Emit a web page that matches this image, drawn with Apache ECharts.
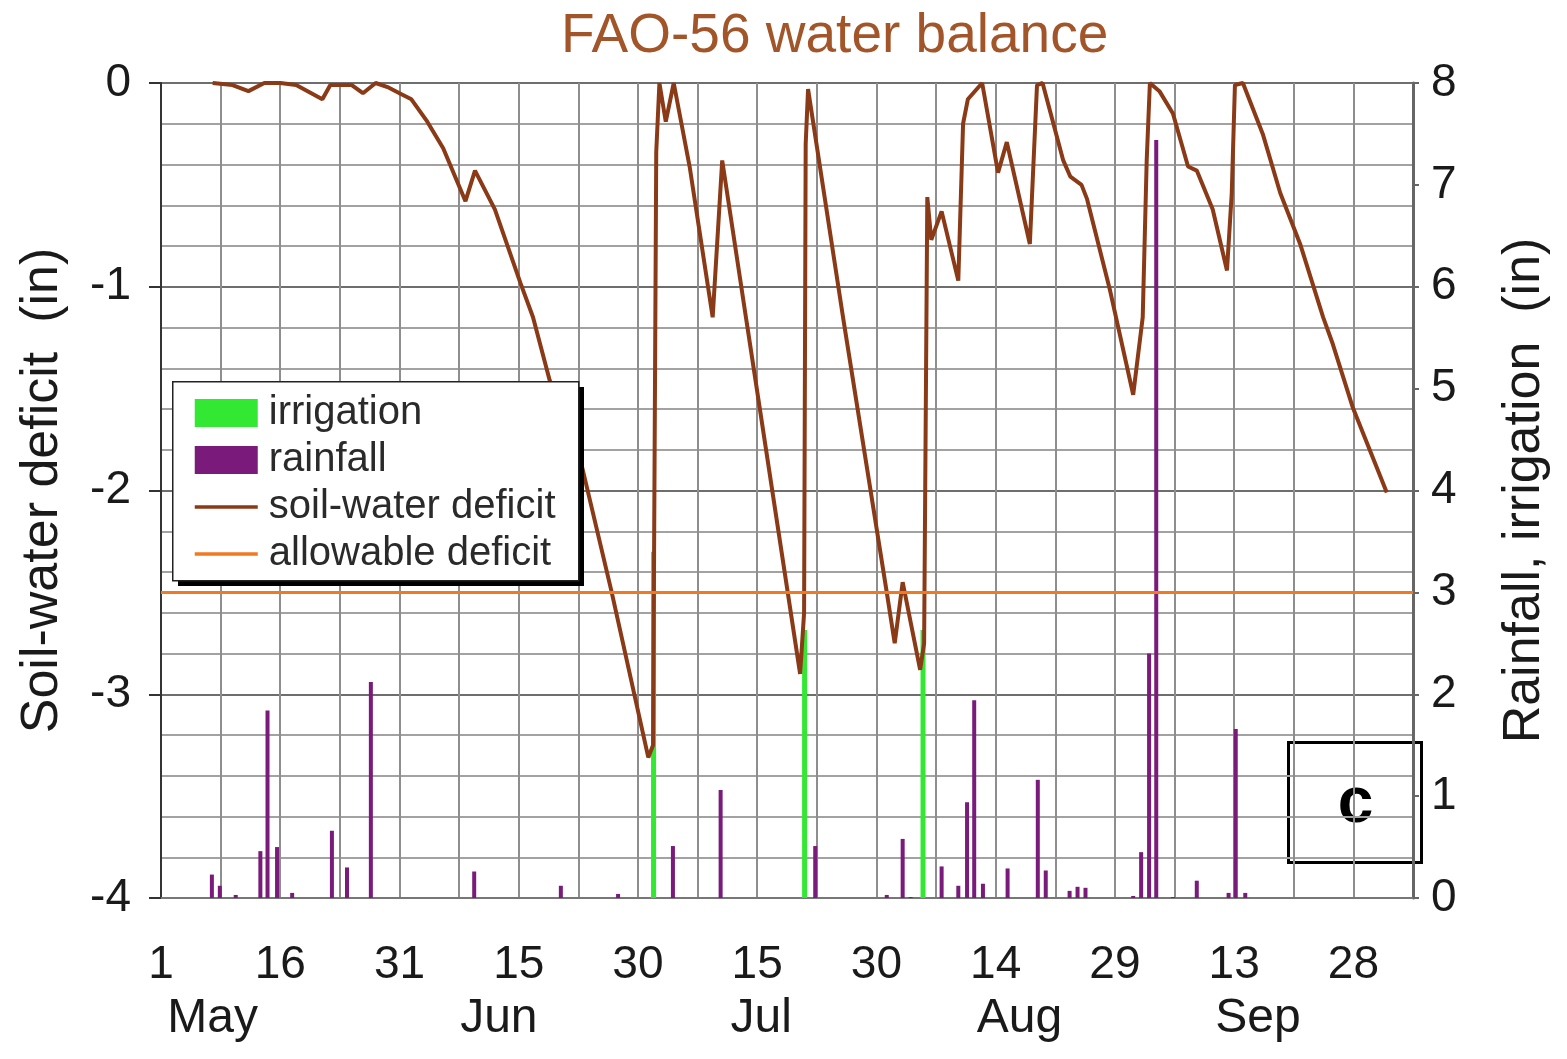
<!DOCTYPE html>
<html>
<head>
<meta charset="utf-8">
<script src="https://cdn.jsdelivr.net/npm/echarts@6.0.0/dist/echarts.min.js"></script>
<style>
  html, body { margin: 0; padding: 0; background: #fff; }
  #main { width: 1567px; height: 1059px; }
</style>
</head>
<body>
<div id="main"></div>
<script>
// days counted from 1 May (day 0)
var deficitDays = [6.5, 9, 11, 13, 15, 17, 20.3, 21.3, 24, 25.4, 27, 28.5, 30, 31.5, 33.5, 35.5, 38.3, 39.5,
    42, 45.2, 46.8, 48.9, 52.7, 56.7, 61.3, 61.9, 62.3, 62.7, 63.5, 64.5, 66.5, 69.4, 70.6, 73.7, 80.4,
    80.9, 81.1, 81.4, 85.8, 91.3, 92.3, 93.3, 95.5, 96.0, 96.4, 96.9, 98.2, 100.3, 100.9, 101.5, 103.3,
    105.3, 106.4, 109.3, 110.2, 110.9, 113.5, 114.4, 115.8, 116.5, 119.4, 122.3, 123.5, 124.0, 124.4,
    125.6, 127.3, 129.2, 130.3, 132.3, 134.1, 134.7, 135.1, 136.1, 138.6, 140.8, 143.3, 146.2, 147.4,
    149.9, 154.2];
var deficitVals = [0, -0.01, -0.04, 0, 0, -0.01, -0.08, -0.01, -0.01, -0.05, 0, -0.02, -0.05, -0.08, -0.19, -0.32, -0.58, -0.43,
    -0.62, -0.98, -1.15, -1.46, -1.84, -2.5, -3.31, -3.25, -0.34, 0, -0.19, 0, -0.41, -1.15, -0.38, -1.18, -2.9,
    -2.6, -0.3, -0.03, -1.15, -2.5, -2.75, -2.45, -2.88, -2.75, -0.56, -0.77, -0.63, -0.97, -0.2, -0.08, 0,
    -0.44, -0.29, -0.79, -0.01, 0, -0.38, -0.46, -0.5, -0.57, -1.02, -1.53, -1.15, -0.38, 0,
    -0.04, -0.15, -0.41, -0.43, -0.62, -0.92, -0.54, -0.01, 0, -0.25, -0.54, -0.79, -1.15, -1.28,
    -1.59, -2.01];

var rainDays = [6.4, 7.4, 9.4, 12.5, 13.4, 14.6, 16.5, 21.5, 23.4, 26.4, 39.4, 50.3, 57.5, 64.4, 70.4, 82.3,
    91.3, 93.3, 94.3, 98.2, 100.3, 101.4, 102.3, 103.4, 106.5, 110.3, 111.3, 114.3, 115.3, 116.3,
    122.3, 123.3, 124.3, 125.2, 127.3, 130.3, 134.3, 135.2, 136.4];
var rainVals = [0.23, 0.12, 0.03, 0.46, 1.84, 0.5, 0.05, 0.66, 0.30, 2.12, 0.26, 0.12, 0.04, 0.51, 1.06, 0.51,
    0.03, 0.58, 0.01, 0.31, 0.12, 0.94, 1.94, 0.14, 0.29, 1.16, 0.27, 0.07, 0.11, 0.10,
    0.02, 0.45, 2.40, 7.44, 0.01, 0.17, 0.05, 1.66, 0.05];

var irrDays = [61.9, 80.9, 95.8];
var irrVals = [3.4, 2.63, 2.63];

var allowDays = [0, 157.5];
var allowVals = [-2.5, -2.5];

var dayLabels = ['1', '16', '31', '15', '30', '15', '30', '14', '29', '13', '28'];
var monthLabels = ['May', 'Jun', 'Jul', 'Aug', 'Sep'];
var monthPos = [6.5, 42.5, 75.5, 108, 138];

function pairs(xs, ys) {
    var out = [];
    for (var i = 0; i < xs.length; i++) {
        out.push([xs[i], ys[i]]);
    }
    return out;
}

var fontName = '"Liberation Sans", Arial, sans-serif';

var myChart = echarts.init(document.getElementById('main'));

var option = {
    backgroundColor: '#fff',
    animation: false,
    title: {
        text: 'FAO-56 water balance',
        left: 556,
        top: 4,
        textStyle: {
            fontFamily: fontName, fontSize: 55, fontWeight: 'normal', color: '#a3552a'
        }
    },
    legend: {
        orient: 'vertical',
        left: 172,
        top: 381,
        z: 20,
        padding: [12, 20, 12, 21],
        itemWidth: 63,
        itemHeight: 28,
        itemGap: 7,
        lineStyle: {width: 3.5},
        textStyle: {
            fontFamily: fontName, fontSize: 40, lineHeight: 36, color: '#2a2a2a', padding: [0, 0, 0, 6]
        },
        data: [
            {name: 'irrigation', icon: 'rect'},
            {name: 'rainfall', icon: 'rect'},
            {name: 'soil-water deficit', itemStyle: {opacity: 0}},
            {name: 'allowable deficit', itemStyle: {opacity: 0}}
        ]
    },
    grid: {
        left: 161,
        right: 154,
        top: 83,
        bottom: 161,
        containLabel: false
    },
    xAxis: [{
        type: 'value',
        min: 0,
        max: 157.5,
        interval: 7.5,
        axisLine: {onZero: false, show: true, lineStyle: {color: '#777', width: 2}},
        axisTick: {show: false},
        splitLine: {show: true, lineStyle: {color: '#8e8e8e', width: 2}},
        axisLabel: {
            margin: 44,
            fontFamily: fontName, fontSize: 46, color: '#1a1a1a',
            formatter: function (v) {
                var k = v / 15;
                if (Math.abs(k - Math.round(k)) < 1e-6) {
                    return dayLabels[Math.round(k)] || '';
                }
                return '';
            }
        }
    }, {
        type: 'value',
        position: 'bottom',
        min: 0,
        max: 157.5,
        interval: 0.5,
        axisLine: {show: false, onZero: false},
        axisTick: {show: false},
        splitLine: {show: false},
        axisLabel: {
            margin: 97,
            fontFamily: fontName, fontSize: 48, color: '#1a1a1a',
            formatter: function (v) {
                for (var i = 0; i < monthPos.length; i++) {
                    if (Math.abs(monthPos[i] - v) < 0.01) return monthLabels[i];
                }
                return '';
            }
        }
    }],
    yAxis: [{
        type: 'value',
        min: -4,
        max: 0,
        interval: 1,
        name: 'Soil-water deficit  (in)',
        nameLocation: 'middle',
        nameRotate: 90,
        nameGap: 92,
        nameTextStyle: {fontFamily: fontName, fontSize: 52, color: '#1a1a1a'},
        axisLine: {show: true, onZero: false, lineStyle: {color: '#333', width: 2}},
        axisTick: {show: true, length: 12, lineStyle: {color: '#333', width: 2}},
        axisLabel: {margin: 30, fontFamily: fontName, fontSize: 46, color: '#1a1a1a'},
        splitLine: {show: true, lineStyle: {color: '#6e6e6e', width: 2}},
        minorTick: {show: false, splitNumber: 5},
        minorSplitLine: {show: true, lineStyle: {color: '#a2a2a2', width: 2}}
    }, {
        type: 'value',
        min: 0,
        max: 8,
        interval: 1,
        position: 'right',
        name: 'Rainfall, irrigation  (in)',
        nameLocation: 'middle',
        nameRotate: 90,
        nameGap: 86,
        nameTextStyle: {fontFamily: fontName, fontSize: 52, color: '#1a1a1a'},
        axisLine: {show: true, onZero: false, lineStyle: {color: '#666', width: 3}},
        axisTick: {show: true, length: 6, lineStyle: {color: '#666', width: 2}},
        axisLabel: {margin: 18, fontFamily: fontName, fontSize: 46, color: '#1a1a1a'},
        splitLine: {show: false}
    }],
    graphic: [{
        // legend drop shadow
        type: 'rect',
        left: 178,
        top: 387,
        z: 14,
        shape: {width: 406, height: 199},
        style: {fill: '#000'}
    }, {
        // legend frame
        type: 'rect',
        left: 172,
        top: 381,
        z: 15,
        shape: {width: 406, height: 199},
        style: {fill: '#fff', stroke: '#222', lineWidth: 1.5}
    }, {
        type: 'group',
        left: 1287,
        top: 741,
        z: 100,
        children: [{
            type: 'rect',
            shape: {x: 0, y: 0, width: 133, height: 120},
            style: {fill: '#fff', stroke: '#000', lineWidth: 3}
        }, {
            type: 'text',
            x: 67,
            y: 62,
            style: {
                text: 'c', fontFamily: fontName, fontSize: 64, fontWeight: 'bold',
                fill: '#000', align: 'center', verticalAlign: 'middle'
            }
        }]
    }],
    series: [
        {
            name: 'irrigation',
            type: 'bar',
            xAxisIndex: 0,
            yAxisIndex: 1,
            barWidth: 5,
            barGap: '-100%',
            itemStyle: {color: '#33e833'},
            data: pairs(irrDays, irrVals),
            z: 2
        },
        {
            name: 'rainfall',
            type: 'bar',
            xAxisIndex: 0,
            yAxisIndex: 1,
            barWidth: 4,
            barGap: '-100%',
            itemStyle: {color: '#7a1a7a'},
            data: pairs(rainDays, rainVals),
            z: 2
        },
        {
            name: 'allowable deficit',
            type: 'line',
            xAxisIndex: 0,
            yAxisIndex: 0,
            symbol: 'none',
            lineStyle: {color: '#f07a22', width: 3},
            itemStyle: {color: '#f07a22'},
            data: pairs(allowDays, allowVals),
            z: 4
        },
        {
            name: 'soil-water deficit',
            type: 'line',
            xAxisIndex: 0,
            yAxisIndex: 0,
            symbol: 'none',
            lineStyle: {color: '#8a3a16', width: 4},
            itemStyle: {color: '#8a3a16'},
            data: pairs(deficitDays, deficitVals),
            z: 3
        }
    ]
};

myChart.setOption(option);
</script>
</body>
</html>
